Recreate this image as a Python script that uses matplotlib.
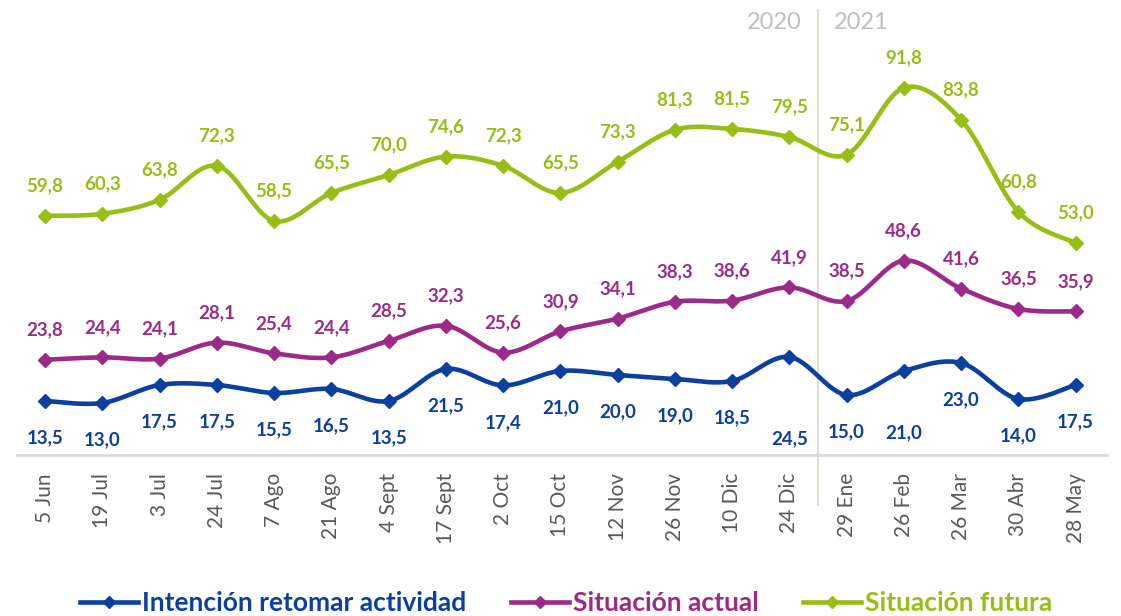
import matplotlib
matplotlib.use("Agg")
import matplotlib.pyplot as plt
from matplotlib.lines import Line2D
import numpy as np

plt.rcParams['font.family'] = ['Lato', 'DejaVu Sans']

fechas = ["5 Jun", "19 Jul", "3 Jul", "24 Jul", "7 Ago", "21 Ago", "4 Sept", "17 Sept",
          "2 Oct", "15 Oct", "12 Nov", "26 Nov", "10 Dic", "24 Dic", "29 Ene", "26 Feb",
          "26 Mar", "30 Abr", "28 May"]
intencion = [13.5, 13.0, 17.5, 17.5, 15.5, 16.5, 13.5, 21.5, 17.4, 21.0, 20.0, 19.0,
             18.5, 24.5, 15.0, 21.0, 23.0, 14.0, 17.5]
actual = [23.8, 24.4, 24.1, 28.1, 25.4, 24.4, 28.5, 32.3, 25.6, 30.9, 34.1, 38.3,
          38.6, 41.9, 38.5, 48.6, 41.6, 36.5, 35.9]
futura = [59.8, 60.3, 63.8, 72.3, 58.5, 65.5, 70.0, 74.6, 72.3, 65.5, 73.3, 81.3,
          81.5, 79.5, 75.1, 91.8, 83.8, 60.8, 53.0]

AZUL = '#0B3FA0'
MORADO = '#9C2A88'
VERDE = '#96BE14'


def suavizar(y, n=30):
    # curva tipo Catmull-Rom que pasa por cada punto
    y = np.asarray(y, dtype=float)
    x = np.arange(len(y), dtype=float)
    px = np.concatenate([[x[0]], x, [x[-1]]])
    py = np.concatenate([[y[0]], y, [y[-1]]])
    xs, ys = [], []
    t = np.linspace(0, 1, n)
    for i in range(1, len(px) - 2):
        for p, out in ((px, xs), (py, ys)):
            p0, p1, p2, p3 = p[i - 1], p[i], p[i + 1], p[i + 2]
            c1 = p1 + (p2 - p0) / 6
            c2 = p2 - (p3 - p1) / 6
            b = ((1 - t) ** 3 * p1 + 3 * (1 - t) ** 2 * t * c1
                 + 3 * (1 - t) * t ** 2 * c2 + t ** 3 * p2)
            out.extend(b)
    return np.array(xs), np.array(ys)


fig = plt.figure(figsize=(11.21, 6.16), dpi=100)
ax = fig.add_axes([0.0152, 0.2614, 0.9724, 0.7224])
x = np.arange(len(fechas))

for serie, color in ((intencion, AZUL), (actual, MORADO), (futura, VERDE)):
    sx, sy = suavizar(serie)
    ax.plot(sx, sy, color=color, lw=3.3, solid_capstyle='round', zorder=3)
    ax.plot(x, serie, ls='none', marker='D', ms=7, color=color, zorder=4)

# etiquetas de valor
desp_azul = [-37] * len(x)
desp_azul[13] = -82
desp_azul[15] = -62
for i in x:
    ax.annotate(f"{futura[i]:.1f}".replace('.', ','), (i, futura[i]), xytext=(0, 30),
                textcoords='offset pixels', ha='center', va='center',
                fontsize=13.5, fontweight='bold', color=VERDE)
    ax.annotate(f"{actual[i]:.1f}".replace('.', ','), (i, actual[i]), xytext=(0, 30),
                textcoords='offset pixels', ha='center', va='center',
                fontsize=13.5, fontweight='bold', color=MORADO)
    ax.annotate(f"{intencion[i]:.1f}".replace('.', ','), (i, intencion[i]),
                xytext=(0, desp_azul[i]), textcoords='offset pixels', ha='center',
                va='center', fontsize=13.5, fontweight='bold', color=AZUL)

ax.set_xlim(-0.49, 18.55)
ax.set_ylim(0, 111.25)
ax.set_xticks(x)
ax.set_xticklabels(fechas, rotation=90, fontsize=15, color='#595959')
ax.tick_params(axis='x', length=0, pad=13)
ax.set_yticks([])
for lado in ('top', 'right', 'left'):
    ax.spines[lado].set_visible(False)
ax.spines['bottom'].set_color('#D9D9D9')
ax.spines['bottom'].set_linewidth(2)

# separador de año
ax.plot([13.5, 13.5], [-12.5, 111.25], color='#DDD9CC', lw=1.3, clip_on=False, zorder=1)
ax.text(13.22, 108, "2020", ha='right', va='center', fontsize=17, color='#BFBFBF')
ax.text(13.78, 108, "2021", ha='left', va='center', fontsize=17, color='#BFBFBF')

manejadores = [Line2D([], [], color=c, lw=3.3, marker='D', ms=6) for c in (AZUL, MORADO, VERDE)]
leg = fig.legend(manejadores, ["Intención retomar actividad", "Situación actual", "Situación futura"],
                 loc='center', bbox_to_anchor=(0.505, 0.021), ncol=3, frameon=False,
                 prop={'size': 19, 'weight': 'bold'}, handlelength=2.2, handletextpad=0.15,
                 columnspacing=1.7)
for txt, c in zip(leg.get_texts(), (AZUL, MORADO, VERDE)):
    txt.set_color(c)

fig.savefig("out.png", dpi=100)
